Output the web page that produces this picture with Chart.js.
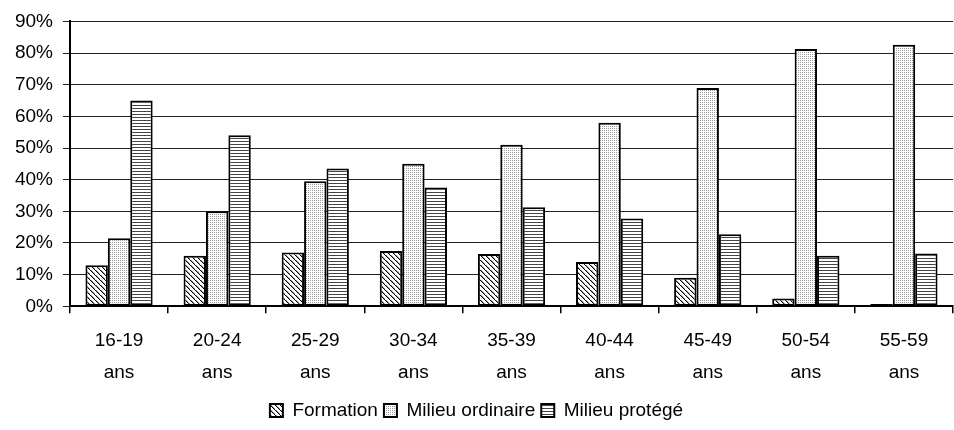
<!DOCTYPE html>
<html>
<head>
<meta charset="utf-8">
<script src="https://cdn.jsdelivr.net/npm/chart.js@4"></script>
<style>
  html, body { margin: 0; padding: 0; background: #fff; }
  #wrap { width: 954px; height: 430px; }
</style>
</head>
<body>
<div id="wrap"><canvas id="chart"></canvas></div>
<script>
// --- Data ---
const ages = ['16-19', '20-24', '25-29', '30-34', '35-39', '40-44', '45-49', '50-54', '55-59'];
const formation = [13, 16, 17, 17.5, 16.5, 14, 9, 2.5, 0.7];
const milieuOrdinaire = [21.5, 30, 39.5, 45, 51, 58, 69, 81.3, 82.6];
const milieuProtege = [65, 54, 43.5, 37.5, 31.3, 27.7, 22.8, 16, 16.7];
const yTicks = [0, 10, 20, 30, 40, 50, 60, 70, 80, 90];

// --- Fill patterns ---
function makePattern(size, draw) {
  const c = document.createElement('canvas');
  c.width = size; c.height = size;
  const g = c.getContext('2d');
  g.fillStyle = '#fff';
  g.fillRect(0, 0, size, size);
  draw(g);
  return g.createPattern(c, 'repeat');
}

const ctx = document.getElementById('chart').getContext('2d');

const hatch = makePattern(5, g => {
  g.fillStyle = '#000';
  for (let i = 0; i < 5; i++) {
    g.fillRect(i, i, 1.4, 1);
  }
});
const dots = makePattern(2, g => {
  g.fillStyle = '#9a9a9a';
  g.fillRect(0, 0, 1, 1);
});
const lines = makePattern(3, g => {
  g.fillStyle = '#444';
  g.fillRect(0, 0, 3, 1);
});

const font = { family: 'Arial, "Liberation Sans", sans-serif', size: 19 };

// nudge the legend up a little, closer to the axis labels
const legendNudge = {
  id: 'legendNudge',
  afterLayout(chart) {
    chart.legend.top -= 5;
    chart.legend.bottom -= 5;
  }
};

new Chart(ctx, {
  type: 'bar',
  data: {
    labels: ages.map(a => [a, 'ans']),
    datasets: [
      { label: 'Formation', data: formation, backgroundColor: hatch },
      { label: 'Milieu ordinaire', data: milieuOrdinaire, backgroundColor: dots },
      { label: 'Milieu protégé', data: milieuProtege, backgroundColor: lines }
    ]
  },
  options: {
    responsive: true,
    maintainAspectRatio: false,
    animation: false,
    datasets: {
      bar: {
        borderColor: '#000',
        borderWidth: 2,
        borderSkipped: false,
        barPercentage: 1,
        categoryPercentage: 0.685
      }
    },
    layout: { padding: { top: 10, right: 1, left: 0, bottom: -5 } },
    plugins: {
      tooltip: { enabled: false },
      legend: {
        position: 'bottom',
        labels: {
          color: '#000',
          font,
          boxWidth: 13,
          boxHeight: 13,
          padding: 6
        }
      }
    },
    scales: {
      x: {
        grid: {
          offset: true,
          drawOnChartArea: false,
          drawTicks: true,
          tickLength: 7,
          color: '#000',
          lineWidth: 1.5
        },
        border: { color: '#000', width: 2 },
        ticks: { color: '#000', font: { ...font, lineHeight: 1.65 }, padding: 12, maxRotation: 0 }
      },
      y: {
        min: 0,
        max: 90,
        afterBuildTicks: s => { s.ticks = yTicks.map(v => ({ value: v })); },
        afterFit: s => { s.width = 70; },
        grid: { color: '#222', lineWidth: 1, tickLength: 7, drawTicks: true },
        border: { color: '#000', width: 2 },
        ticks: { color: '#000', font, padding: 10, callback: v => v + '%' }
      }
    }
  },
  plugins: [legendNudge]
});
</script>
</body>
</html>
